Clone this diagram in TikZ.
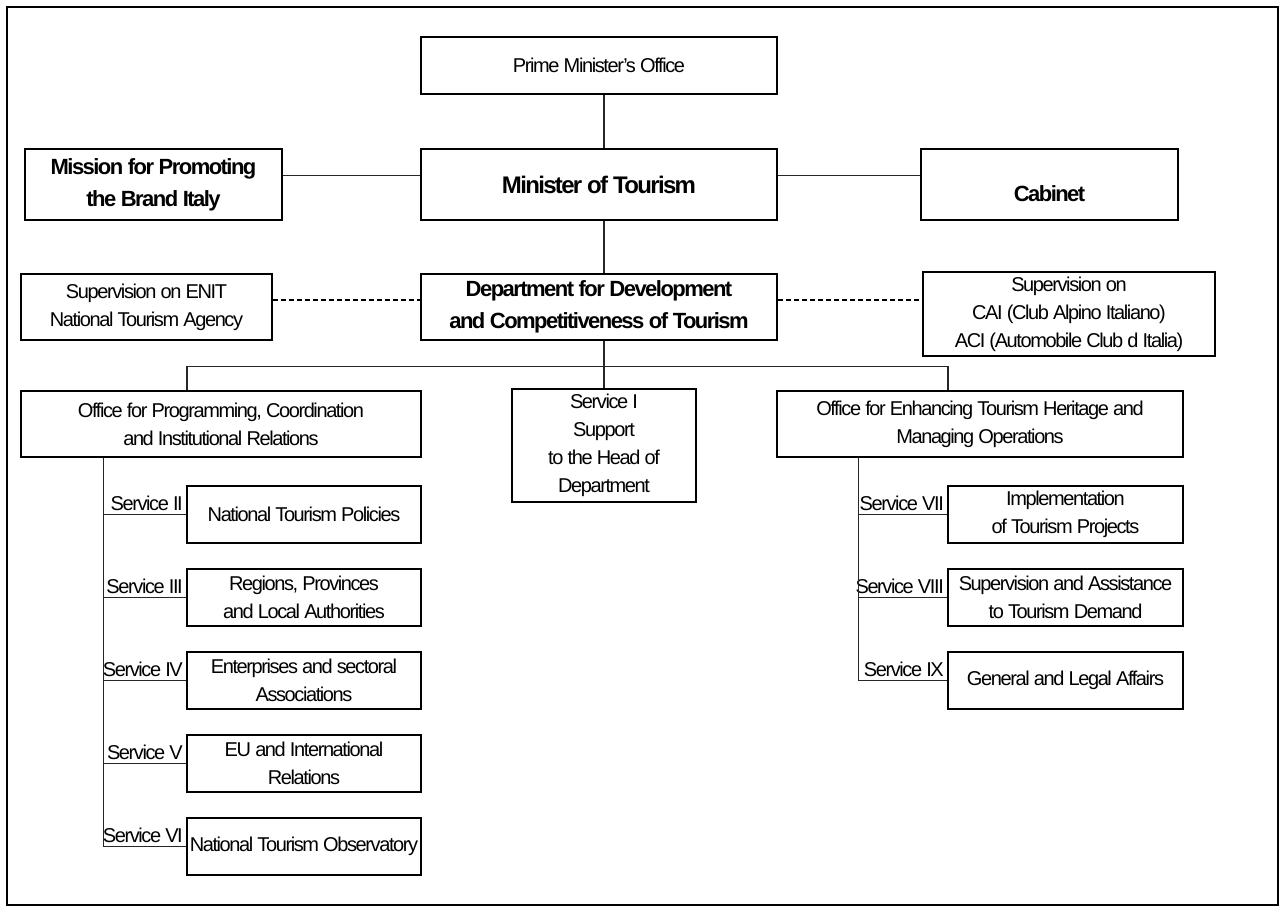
\documentclass[tikz,border=0pt]{standalone}
\usepackage{fontspec}
\setmainfont{Liberation Sans}[LetterSpace=-7]
\usetikzlibrary{shadows}

\begin{document}
\begin{tikzpicture}[x = 1pt, y = 1pt, font = \fontsize{10}{14}\selectfont]

  \tikzstyle{box} = [draw, rectangle, fill = white, inner sep = 0pt, align = center, line width = 0.6pt]
  \tikzstyle{sbox} = [box, line width = 0.8pt, drop shadow = {shadow xshift = 0.6pt, shadow yshift = -0.6pt, opacity = 1, fill = black}]
  \tikzstyle{head} = [font = \fontsize{11}{16}\selectfont\bfseries]
  \tikzstyle{svc} = [sbox, minimum width = 117pt, minimum height = 28.5pt]
  \tikzstyle{svclabel} = [anchor = south east, inner sep = 1.5pt]
  \tikzstyle{link} = [line width = 0.6pt, black!85]
  \tikzstyle{ctrl} = [line width = 1.2pt, dash pattern = on 2.5pt off 1.5pt]

  \useasboundingbox (0, 0) rectangle (642, -455.5);
  \draw[line width = 1pt] (3.5, -3.5) rectangle (639, -452.5);

  \node[sbox, minimum width = 178pt, minimum height = 28.5pt] (pm) at (299.5, -32.75) {Prime Minister's Office};
  \node[sbox, font = \fontsize{12}{16}\selectfont\bfseries, minimum width = 178pt, minimum height = 35.5pt, node distance = 59.5pt, below of = pm] (min) {Minister of Tourism};
  \node[box, head, minimum width = 128.5pt, minimum height = 35.5pt, node distance = 222.75pt, left of = min] (mission) {Mission for Promoting\\the Brand Italy};
  \node[box, minimum width = 128.5pt, minimum height = 35.5pt, node distance = 225.25pt, right of = min, label = {[head, yshift = -4.75pt]center:Cabinet}] (cab) {};

  \node[sbox, head, minimum width = 178pt, minimum height = 33pt, node distance = 61.25pt, below of = min] (dept) {Department for Development\\and Competitiveness of Tourism};
  \node[sbox, minimum width = 125.5pt, minimum height = 33pt, node distance = 226.25pt, left of = dept] (enit) {Supervision on ENIT\\National Tourism Agency};
  \node[box, minimum width = 146pt, minimum height = 42pt, node distance = 235pt, right of = dept, yshift = -3.5pt] (cai) {Supervision on\\CAI (Club Alpino Italiano)\\ACI (Automobile Club d Italia)};

  \node[box, minimum width = 92pt, minimum height = 56.5pt, node distance = 69.25pt, below of = dept, xshift = 2.5pt] (sone) {Service I\\Support\\to the Head of\\Department};
  \node[sbox, minimum width = 200pt, minimum height = 33pt, node distance = 58.5pt, below of = enit, xshift = 37.25pt] (oprog) {Office for Programming, Coordination\\and Institutional Relations};
  \node[sbox, minimum width = 203pt, minimum height = 33pt, node distance = 58.5pt, below of = dept, xshift = 190.5pt] (oenh) {Office for Enhancing Tourism Heritage  and\\Managing Operations};

  \node[svc, node distance = 45.25pt, below of = oprog, xshift = 41.5pt, label = {[svclabel]west:Service II}] (stwo) {National Tourism Policies};
  \node[svc, node distance = 41.5pt, below of = stwo, label = {[svclabel]west:Service III}] (sthree) {Regions, Provinces\\and Local Authorities};
  \node[svc, node distance = 41.5pt, below of = sthree, label = {[svclabel]west:Service IV}] (sfour) {Enterprises and sectoral\\Associations};
  \node[svc, node distance = 41.5pt, below of = sfour, label = {[svclabel]west:Service V}] (sfive) {EU and International\\Relations};
  \node[svc, node distance = 41.5pt, below of = sfive, label = {[svclabel]west:Service VI}] (ssix) {National Tourism Observatory};

  \node[svc, minimum width = 117.5pt, node distance = 45.25pt, below of = oenh, xshift = 42.75pt, label = {[svclabel]west:Service VII}] (sseven) {Implementation\\of Tourism Projects};
  \node[svc, minimum width = 117.5pt, node distance = 41.5pt, below of = sseven, label = {[svclabel]west:Service VIII}] (seight) {Supervision and Assistance\\to Tourism Demand};
  \node[svc, minimum width = 117.5pt, node distance = 41.5pt, below of = seight, label = {[svclabel]west:Service IX}] (snine) {General and Legal Affairs};

  \draw[link] (pm.south -| sone.north) -- (min.north -| sone.north);
  \draw[link] (min.south -| sone.north) -- (dept.north -| sone.north);
  \draw[link] ([yshift = 4.5pt]mission.east) -- ([yshift = 4.5pt]mission.east -| min.west);
  \draw[link] ([yshift = 4.5pt]min.east) -- ([yshift = 4.5pt]min.east -| cab.west);

  \draw[ctrl] ([yshift = 3.5pt]enit.east) -- ([yshift = 3.5pt]enit.east -| dept.west);
  \draw[ctrl] ([yshift = 3.5pt]dept.east) -- ([yshift = 3.5pt]dept.east -| cai.west);

  \coordinate (bus) at ([yshift = -13pt]dept.south);
  \draw[link] ([xshift = -17pt]oprog.north) |- (bus) -| ([xshift = -16pt]oenh.north);
  \draw[link] (dept.south -| sone.north) -- (sone.north);

  \coordinate (ltrunk) at ([xshift = 41.5pt]oprog.south west);
  \draw[link] (ltrunk) |- (ssix.west);
  \draw[link] (stwo.west -| ltrunk) -- (stwo.west);
  \draw[link] (sthree.west -| ltrunk) -- (sthree.west);
  \draw[link] (sfour.west -| ltrunk) -- (sfour.west);
  \draw[link] (sfive.west -| ltrunk) -- (sfive.west);

  \coordinate (rtrunk) at ([xshift = 41pt]oenh.south west);
  \draw[link] (rtrunk) |- (snine.west);
  \draw[link] (sseven.west -| rtrunk) -- (sseven.west);
  \draw[link] (seight.west -| rtrunk) -- (seight.west);
\end{tikzpicture}
\end{document}
